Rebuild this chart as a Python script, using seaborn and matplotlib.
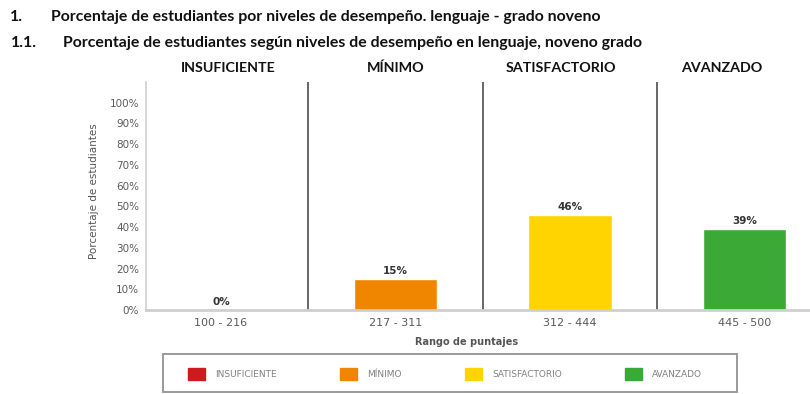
import matplotlib
matplotlib.use("Agg")
import matplotlib.pyplot as plt
from matplotlib.patches import Patch, Rectangle
import seaborn as sns
import pandas as pd

niveles = ["INSUFICIENTE", "MÍNIMO", "SATISFACTORIO", "AVANZADO"]
rangos = ["100 - 216", "217 - 311", "312 - 444", "445 - 500"]
porcentajes = [0, 15, 46, 39]
colores = ["#CC1A1D", "#F08600", "#FFD400", "#3BA935"]
yticks = list(range(0, 101, 10))

sns.set_theme(style="white")
plt.rcParams["font.family"] = ["DejaVu Sans"]

W, H = 810, 394
df = pd.DataFrame({"rango": rangos, "nivel": niveles, "pct": porcentajes})

fig = plt.figure(figsize=(W / 100, H / 100), dpi=100)
ax = fig.add_axes([146 / W, 1 - 310 / H, (W - 146) / W, (310 - 82) / H])

sns.barplot(data=df, x="rango", y="pct", hue="nivel", palette=colores,
            hue_order=niveles, order=rangos, dodge=False, width=0.48,
            legend=False, ax=ax, saturation=1)

ax.set_xlim(-0.43, 3.375)
ax.set_ylim(0, 110)
ax.set_yticks(yticks)
ax.set_yticklabels([f"{v}%" for v in yticks], color="#5a5a5a", fontsize=7.5)
ax.tick_params(axis="x", colors="#5a5a5a", labelsize=8, length=0, pad=6)
ax.tick_params(axis="y", length=0, pad=5)

for s in ["top", "right"]:
    ax.spines[s].set_visible(False)
ax.spines["left"].set_color("#d0d0d0")
ax.spines["left"].set_linewidth(1.2)
ax.spines["bottom"].set_color("#cfcfcf")
ax.spines["bottom"].set_linewidth(2)

# group separators
for xs in [0.5, 1.5, 2.5]:
    ax.axvline(xs, color="#5a5a5a", lw=1.3, zorder=0)

# value labels
for i, v in enumerate(porcentajes):
    ax.annotate(f"{v}%", (i, v), xytext=(0, 2), textcoords="offset points",
                ha="center", va="bottom", fontsize=7.5, fontweight="bold",
                color="#333333")

ax.set_xlabel("Rango de puntajes", fontsize=7, fontweight="bold",
              color="#555555")
ax.xaxis.set_label_coords((467 - 146) / (W - 146), -27 / (310 - 82))
ax.set_ylabel("Porcentaje de estudiantes", fontsize=7.5, color="#555555")
ax.yaxis.set_label_coords(-(146 - 99) / (W - 146), 0.52)

tfam = ["Lato", "DejaVu Sans"]
renderer = fig.canvas.get_renderer()


def size_for(s, width_px, base=10):
    t = fig.text(0, 0, s, fontsize=base, fontweight="bold", family=tfam)
    w = t.get_window_extent(renderer).width
    t.remove()
    return base * width_px / w


def label(x_px, y_px, s, size, ha="left"):
    fig.text(x_px / W, 1 - y_px / H, s, fontsize=size, fontweight="bold",
             va="center", ha=ha, family=tfam, color="#111111")


# titles
line1 = "Porcentaje de estudiantes por niveles de desempeño. lenguaje - grado noveno"
line2 = "Porcentaje de estudiantes según niveles de desempeño en lenguaje, noveno grado"
ts = size_for(line1, 550)
label(10, 17, "1.", ts)
label(51, 17, line1, ts)
label(11, 43, "1.1.", ts)
label(63, 43, line2, ts)

# level headers
hs = size_for("INSUFICIENTE", 96)
for cx, n in zip([228, 396, 561, 722], niveles):
    label(cx, 68, n, hs, ha="center")

# legend
handles = [Patch(facecolor=c, edgecolor=c, label=n) for c, n in zip(colores, niveles)]
leg = fig.legend(handles=handles, loc="center", ncol=4,
                 bbox_to_anchor=(445 / W, 1 - 374 / H), frameon=False,
                 fontsize=6.5, handlelength=1.88, handleheight=1.77,
                 handletextpad=1.1, columnspacing=7.05,
                 labelcolor="#808080")
fig.patches.append(Rectangle((163 / W, 1 - 392 / H), (737 - 163) / W, 38 / H,
                             transform=fig.transFigure, fill=False,
                             edgecolor="#9a9a9a", lw=1.4))

fig.savefig("out.png", dpi=100)
